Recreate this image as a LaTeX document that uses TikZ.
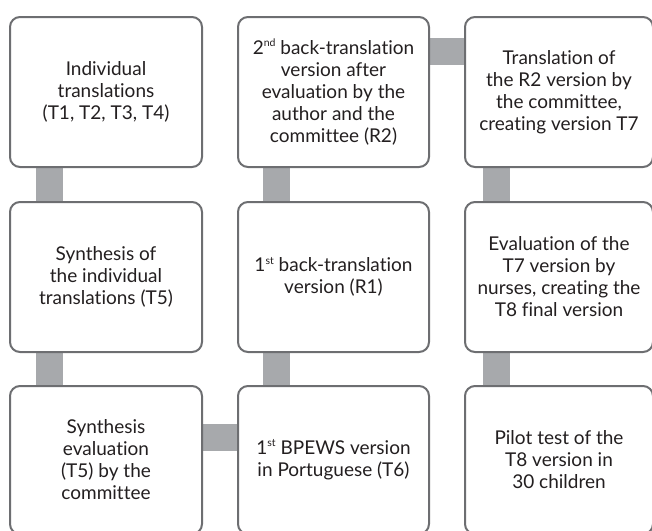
\documentclass[tikz,border=0pt]{standalone}
\usepackage{fontspec}
\setmainfont{Lato}[Ligatures=NoCommon]
\usetikzlibrary{backgrounds}
\definecolor{edge}{HTML}{6D6E71}
\definecolor{barc}{HTML}{A7A9AC}
\definecolor{txt}{HTML}{231F20}
\newcommand{\supx}[1]{\raisebox{0.4em}{\fontsize{10.5}{10.5}\selectfont #1}}
\tikzset{
  stepbox/.style={draw=edge, line width=2pt, rounded corners=10pt, fill=white,
    anchor=north west, inner sep=0pt, align=center, text=txt,
    font=\fontsize{19}{22}\selectfont},
  bar/.style={draw=barc, line width=27pt}
}
\begin{document}
\begin{tikzpicture}[x=1pt,y=-1pt]
\useasboundingbox (0,0) rectangle (652,530);
\clip (0,0) rectangle (652,530);
% row 1
\node[stepbox, minimum width=192pt, minimum height=150pt] (n1) at (9,16)
  {Individual\\translations\\(T1, T2, T3, T4)};
\node[stepbox, minimum width=191pt, minimum height=150pt] (n2) at (237,16)
  {2\supx{nd} back-translation\\version after\\evaluation by the\\author and the\\committee (R2)};
\node[stepbox, minimum width=188pt, minimum height=150pt] (n3) at (464,16)
  {Translation of\\the R2 version by\\the committee,\\creating version T7};
% row 2
\node[stepbox, minimum width=192pt, minimum height=150pt] (n4) at (9,201)
  {Synthesis of\\the individual\\translations (T5)};
\node[stepbox, minimum width=191pt, minimum height=150pt] (n5) at (237,201)
  {1\supx{st} back-translation\\version (R1)};
\node[stepbox, minimum width=188pt, minimum height=150pt] (n6) at (464,201)
  {Evaluation of the\\T7 version by\\nurses, creating the\\T8 final version};
% row 3
\node[stepbox, minimum width=192pt, minimum height=148pt] (n7) at (9,385)
  {Synthesis\\evaluation\\(T5) by the\\committee};
\node[stepbox, minimum width=191pt, minimum height=148pt] (n8) at (237,385)
  {1\supx{st} BPEWS version\\in Portuguese (T6)};
\node[stepbox, minimum width=188pt, minimum height=148pt] (n9) at (464,385)
  {Pilot test of the\\T8 version in\\30 children};
% connectors
\begin{scope}[on background layer]
\draw[bar] ([xshift=40pt]n1.south west) -- ([xshift=40pt]n4.north west);
\draw[bar] ([xshift=40pt]n4.south west) -- ([xshift=40pt]n7.north west);
\draw[bar] ([xshift=39pt]n8.north west) -- ([xshift=39pt]n5.south west);
\draw[bar] ([xshift=39pt]n5.north west) -- ([xshift=39pt]n2.south west);
\draw[bar] ([yshift=-35pt]n2.north east) -- ([yshift=-35pt]n3.north west);
\draw[bar] ([xshift=32pt]n3.south west) -- ([xshift=32pt]n6.north west);
\draw[bar] ([xshift=32pt]n6.south west) -- ([xshift=32pt]n9.north west);
\draw[bar] ([yshift=-52pt]n7.north east) -- ([yshift=-52pt]n8.north west);
\end{scope}
\end{tikzpicture}
\end{document}
